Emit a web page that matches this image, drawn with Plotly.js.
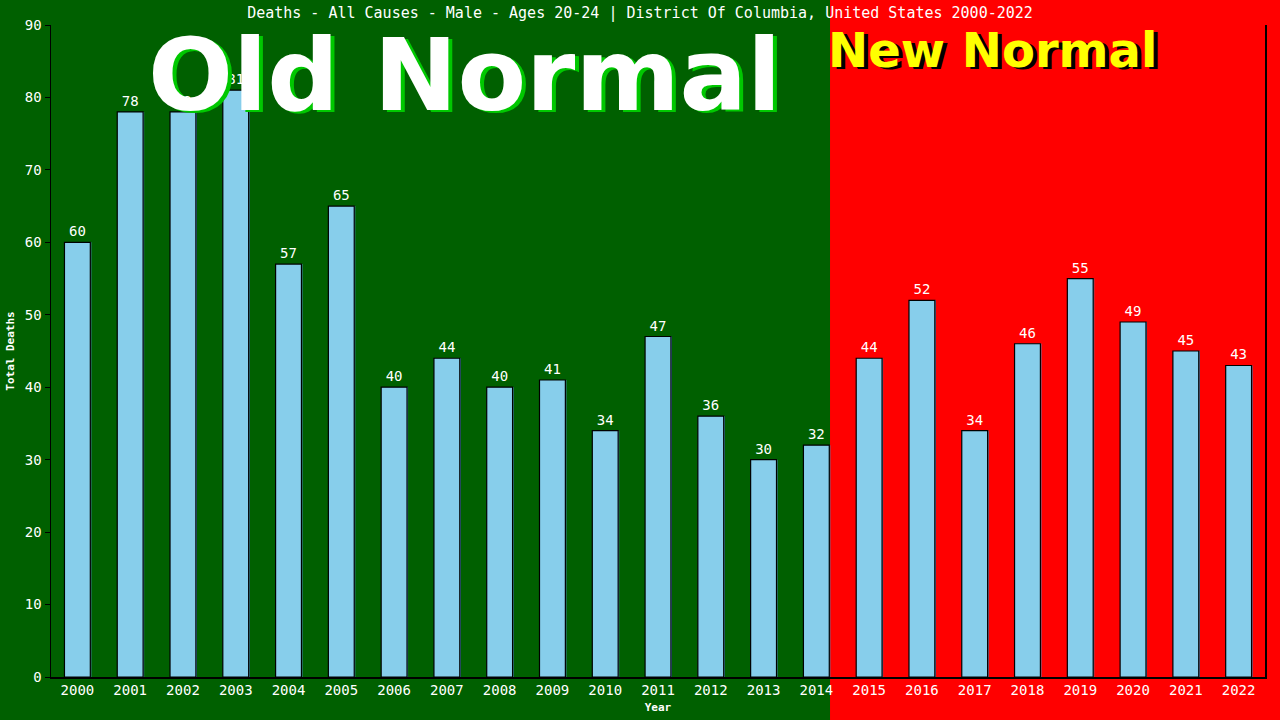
<!DOCTYPE html>
<html>
<head>
<meta charset="utf-8">
<script src="https://cdn.plot.ly/plotly-3.0.1.min.js"></script>
<style>
  html, body { margin: 0; padding: 0; background: #ff0000; }
  #plot { width: 1280px; height: 720px; }
</style>
</head>
<body>
<div id="plot"></div>
<script>
const years = ["2000", "2001", "2002", "2003", "2004", "2005", "2006", "2007", "2008", "2009", "2010", "2011",
  "2012", "2013", "2014", "2015", "2016", "2017", "2018", "2019", "2020", "2021", "2022"];
const deaths = [60, 78, 78, 81, 57, 65, 40, 44, 40, 41, 34, 47, 36, 30, 32, 44, 52, 34, 46, 55, 49, 45, 43];
const titleText = "Deaths - All Causes - Male - Ages 20-24 | District Of Columbia, United States 2000-2022";

const mono = "DejaVu Sans Mono, Liberation Mono, monospace";
const bold = "DejaVu Sans, Verdana, sans-serif";

// shadow behind each bar (steelblue edge on the right)
var shadow = {
  x: years,
  y: deaths,
  type: "bar",
  width: 0.49,
  offset: -0.225,
  marker: { color: "#4682b4", line: { width: 0 } },
  hoverinfo: "skip"
};

var bars = {
  x: years,
  y: deaths,
  type: "bar",
  width: 0.49,
  offset: -0.245,
  marker: { color: "#87ceeb", line: { color: "#000000", width: 1.2 } },
  text: deaths.map(String),
  textposition: "outside",
  cliponaxis: false,
  textfont: { family: mono, size: 14, color: "#ffffff" }
};

var layout = {
  width: 1280,
  height: 720,
  margin: { l: 51, r: 15, t: 25, b: 43 },
  paper_bgcolor: "#ff0000",
  plot_bgcolor: "rgba(0,0,0,0)",
  showlegend: false,
  barmode: "overlay",
  title: {
    text: titleText,
    font: { family: mono, size: 15, color: "#ffffff" },
    x: 0.5, xanchor: "center",
    y: 0.982, yanchor: "middle"
  },
  xaxis: {
    type: "category",
    range: [-0.5, 22.5],
    showline: true, linecolor: "#000000", linewidth: 1.5,
    ticks: "",
    showgrid: false, zeroline: false,
    tickfont: { family: mono, size: 14, color: "#ffffff" },
    title: { text: "<b>Year</b>", font: { family: mono, size: 11, color: "#ffffff" }, standoff: 6 }
  },
  yaxis: {
    range: [0, 90],
    dtick: 10,
    showline: true, linecolor: "#000000", linewidth: 1.5, mirror: true,
    ticks: "outside", ticklen: 5, tickcolor: "#000000",
    showgrid: false, zeroline: false,
    tickfont: { family: mono, size: 14, color: "#ffffff" },
    title: { text: "<b>Total Deaths</b>", font: { family: mono, size: 11, color: "#ffffff" }, standoff: 8 }
  },
  shapes: [
    { type: "rect", xref: "paper", yref: "paper", x0: -0.1, x1: 0.6417, y0: -0.2, y1: 1.1,
      fillcolor: "#006000", line: { width: 0 }, layer: "below" }
  ],
  annotations: [
    { xref: "paper", yref: "paper", x: 0.3443, y: 1.013, text: "<b>Old Normal</b>", showarrow: false,
      font: { family: bold, size: 100, color: "#00c800" } },
    { xref: "paper", yref: "paper", x: 0.341, y: 1.015, text: "<b>Old Normal</b>", showarrow: false,
      font: { family: bold, size: 100, color: "#ffffff" } },
    { xref: "paper", yref: "paper", x: 0.9157, y: 1.004, text: "<b>New Normal</b>", showarrow: false,
      font: { family: bold, size: 48, color: "#000000" } },
    { xref: "paper", yref: "paper", x: 0.9127, y: 1.008, text: "<b>New Normal</b>", showarrow: false,
      font: { family: bold, size: 48, color: "#ffff00" } }
  ]
};

Plotly.newPlot("plot", [shadow, bars], layout, { displayModeBar: false, staticPlot: true });
</script>
</body>
</html>
